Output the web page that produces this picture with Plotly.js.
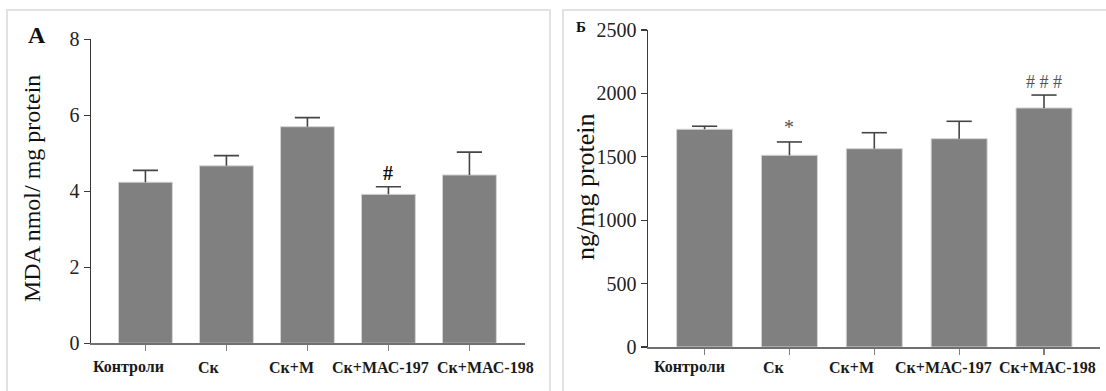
<!DOCTYPE html>
<html>
<head>
<meta charset="utf-8">
<script src="https://cdn.plot.ly/plotly-3.0.1.min.js"></script>
<style>html,body{margin:0;padding:0;background:#fff;}#chart{width:1106px;height:391px;}</style>
</head>
<body>
<div id="chart"></div>
<script>
const categories = ['Контроли', 'Ск', 'Ск+М', 'Ск+МАС-197', 'Ск+МАС-198'];
const mdaValues = [4.24, 4.67, 5.70, 3.92, 4.43];
const mdaErrors = [0.31, 0.27, 0.24, 0.20, 0.60];
const mdaMarks = ['', '', '', '#', ''];
const ngValues = [1717, 1512, 1564, 1643, 1885];
const ngErrors = [24, 105, 126, 137, 102];
const ngMarks = ['', '*', '', '', '# # #'];
const leftTicks = [0, 2, 4, 6, 8];
const rightTicks = [0, 500, 1000, 1500, 2000, 2500];

const W = 1106, H = 391;
const px = v => v / W, py = v => 1 - v / H;
const serif = 'Liberation Serif, Times New Roman, serif';
// horizontal offsets (px) of the category labels as placed in the original figure
const leftLabelShift = [-17, -17, -16, -8, 16];
const rightLabelShift = [-15, -15, -23, -16, 3];

const barStyle = {color: '#808080', line: {color: '#d4d4d4', width: 1}};
const errColor = '#454545';
const errStyle = (arr) => ({type: 'data', symmetric: false, array: arr,
  arrayminus: arr.map(() => 0), color: errColor, thickness: 1.6, width: 0});
const capTrace = (vals, errs, xa, ya) => ({type: 'scatter', mode: 'markers', x: categories,
  y: vals.map((v, i) => v + errs[i]), xaxis: xa, yaxis: ya, hoverinfo: 'none',
  marker: {symbol: 'line-ew', size: 18, color: errColor, line: {color: errColor, width: 1.6}}});

const traces = [
  {type: 'bar', x: categories, y: mdaValues, xaxis: 'x', yaxis: 'y',
   marker: barStyle, width: 0.665, error_y: errStyle(mdaErrors), hoverinfo: 'none'},
  {type: 'bar', x: categories, y: ngValues, xaxis: 'x2', yaxis: 'y2',
   marker: barStyle, width: 0.66, error_y: errStyle(ngErrors), hoverinfo: 'none'},
  capTrace(mdaValues, mdaErrors, 'x', 'y'),
  capTrace(ngValues, ngErrors, 'x2', 'y2')
];

const xBase = {type: 'category', showgrid: false, zeroline: false, showline: true,
  linecolor: '#707070', linewidth: 1.5, ticks: 'outside', ticklen: 6, tickwidth: 1.2,
  tickcolor: '#808080', showticklabels: false, fixedrange: true};
const yBase = {showgrid: false, zeroline: false, showline: true, linecolor: '#3a3a3a',
  linewidth: 1.5, ticks: 'outside', ticklen: 6, tickwidth: 1.2, tickcolor: '#3a3a3a',
  tickfont: {family: serif, size: 20, color: '#222'}, fixedrange: true};

const annotations = [];
categories.forEach((c, i) => {
  annotations.push({xref: 'x', yref: 'paper', x: c, y: py(367), xshift: leftLabelShift[i],
    text: '<b>' + c + '</b>', showarrow: false, xanchor: 'center', yanchor: 'middle',
    font: {family: serif, size: 16, color: '#1a1a1a'}});
  annotations.push({xref: 'x2', yref: 'paper', x: c, y: py(367), xshift: rightLabelShift[i],
    text: '<b>' + c + '</b>', showarrow: false, xanchor: 'center', yanchor: 'middle',
    font: {family: serif, size: 16, color: '#1a1a1a'}});
});
mdaMarks.forEach((m, i) => { if (m) annotations.push({xref: 'x', yref: 'y', x: categories[i],
  y: mdaValues[i] + mdaErrors[i], text: '<b>' + m + '</b>', showarrow: false, yanchor: 'middle', yshift: 14,
  font: {family: serif, size: 20, color: '#111'}}); });
ngMarks.forEach((m, i) => { if (m) annotations.push({xref: 'x2', yref: 'y2', x: categories[i],
  y: ngValues[i] + ngErrors[i], text: m, showarrow: false, yanchor: 'middle',
  yshift: m === '*' ? 15 : 13, font: {family: serif, size: m === '*' ? 20 : 18, color: '#555'}}); });
annotations.push({xref: 'paper', yref: 'paper', x: px(37), y: py(35), text: '<b>A</b>',
  showarrow: false, xanchor: 'center', yanchor: 'middle', font: {family: serif, size: 24, color: '#111'}});
annotations.push({xref: 'paper', yref: 'paper', x: px(581), y: py(27), text: '<b>Б</b>',
  showarrow: false, xanchor: 'center', yanchor: 'middle', font: {family: serif, size: 15, color: '#111'}});
annotations.push({xref: 'paper', yref: 'paper', x: px(32), y: py(189), text: 'MDA nmol/ mg protein',
  textangle: -90, showarrow: false, xanchor: 'center', yanchor: 'middle', font: {family: serif, size: 24, color: '#111'}});
annotations.push({xref: 'paper', yref: 'paper', x: px(585), y: py(187), text: 'ng/mg protein',
  textangle: -90, showarrow: false, xanchor: 'center', yanchor: 'middle', font: {family: serif, size: 26, color: '#111'}});

const layout = {
  width: W, height: H, margin: {l: 0, r: 0, t: 0, b: 0},
  paper_bgcolor: '#fff', plot_bgcolor: 'rgba(0,0,0,0)', showlegend: false,
  xaxis: Object.assign({}, xBase, {domain: [px(91), px(525)], range: [-0.672, 4.686], anchor: 'y'}),
  yaxis: Object.assign({}, yBase, {domain: [py(343.3), py(39.3)], range: [0, 8],
    tickvals: leftTicks, ticktext: leftTicks.map(String), anchor: 'x'}),
  xaxis2: Object.assign({}, xBase, {domain: [px(648), px(1100)], range: [-0.667, 4.66], anchor: 'y2'}),
  yaxis2: Object.assign({}, yBase, {domain: [py(347), py(30)], range: [0, 2500],
    tickvals: rightTicks, ticktext: rightTicks.map(String), anchor: 'x2'}),
  shapes: [
    {type: 'rect', xref: 'paper', yref: 'paper', x0: px(7), x1: px(550), y0: py(400), y1: py(10),
     line: {color: '#e2e2e2', width: 2}, fillcolor: 'rgba(0,0,0,0)', layer: 'below'},
    {type: 'rect', xref: 'paper', yref: 'paper', x0: px(563), x1: px(1112), y0: py(400), y1: py(10),
     line: {color: '#e2e2e2', width: 2}, fillcolor: 'rgba(0,0,0,0)', layer: 'below'}
  ],
  annotations: annotations
};

Plotly.newPlot('chart', traces, layout, {staticPlot: true, displayModeBar: false});
</script>
</body>
</html>
